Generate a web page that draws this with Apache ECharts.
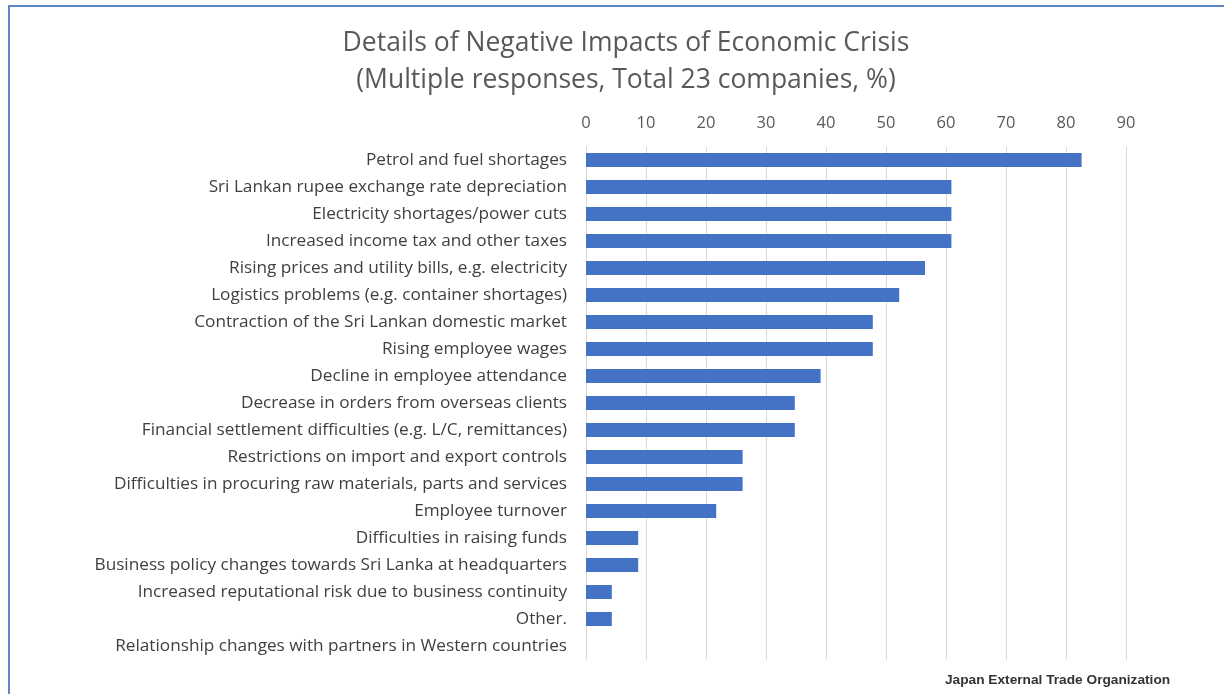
<!DOCTYPE html>
<html>
<head>
<meta charset="utf-8">
<script src="https://cdn.jsdelivr.net/npm/echarts@6/dist/echarts.min.js"></script>
<style>
  html, body { margin: 0; padding: 0; background: #fff; }
  #frame { position: absolute; left: 8px; top: 5px; width: 1216px; height: 689px;
           border-top: 2px solid #5B86C8; border-left: 2px solid #5B86C8; box-sizing: border-box; }
  #chart { position: absolute; left: 0; top: 0; width: 1224px; height: 694px; }
</style>
</head>
<body>
<div id="frame"></div>
<div id="chart"></div>
<script>
// Share of companies (n = 23) reporting each negative impact, in %
const categories = [
  'Petrol and fuel shortages',
  'Sri Lankan rupee exchange rate depreciation',
  'Electricity shortages/power cuts',
  'Increased income tax and other taxes',
  'Rising prices and utility bills, e.g. electricity',
  'Logistics problems (e.g. container shortages)',
  'Contraction of the Sri Lankan domestic market',
  'Rising employee wages',
  'Decline in employee attendance',
  'Decrease in orders from overseas clients',
  'Financial settlement difficulties (e.g. L/C, remittances)',
  'Restrictions on import and export controls',
  'Difficulties in procuring raw materials, parts and services',
  'Employee turnover',
  'Difficulties in raising funds',
  'Business policy changes towards Sri Lanka at headquarters',
  'Increased reputational risk due to business continuity',
  'Other.',
  'Relationship changes with partners in Western countries'
];
const shares = [82.6, 60.9, 60.9, 60.9, 56.5, 52.2, 47.8, 47.8, 39.1, 34.8, 34.8, 26.1, 26.1, 21.7, 8.7, 8.7, 4.3, 4.3, 0];
const titleLines = ['Details of Negative Impacts of Economic Crisis', '(Multiple responses, Total 23 companies, %)'];
const sourceText = 'Japan External Trade Organization';

const chart = echarts.init(document.getElementById('chart'));
const font = '"Open Sans", "DejaVu Sans", sans-serif';

chart.setOption({
  animation: false,
  title: {
    text: titleLines.join('\n'),
    left: 621, top: 20, textAlign: 'center',
    textStyle: { fontFamily: font, fontSize: 26.5, fontWeight: 'normal', color: '#595959', lineHeight: 37 }
  },
  graphic: [{
    type: 'text', left: 945, top: 673,
    style: { text: sourceText, fontFamily: '"Liberation Sans", Arial, sans-serif', fontSize: 13.7, fontWeight: 'bold', fill: '#333333' }
  }],
  grid: { left: 586, right: 98, top: 146.5, bottom: 34.5 },
  xAxis: {
    type: 'value', position: 'top', min: 0, max: 90, interval: 10,
    axisLine: { show: false }, axisTick: { show: false },
    axisLabel: { fontFamily: font, fontSize: 16.5, color: '#595959', margin: 15 },
    splitLine: { lineStyle: { color: '#d9d9d9', width: 1 } }
  },
  yAxis: {
    type: 'category', inverse: true, data: categories,
    axisLine: { lineStyle: { color: '#d9d9d9' } }, axisTick: { show: false },
    axisLabel: { fontFamily: font, fontSize: 17.2, color: '#404040', margin: 19 }
  },
  series: [{
    type: 'bar', data: shares, barWidth: 14,
    itemStyle: { color: '#4472C4' }
  }]
});
</script>
</body>
</html>
